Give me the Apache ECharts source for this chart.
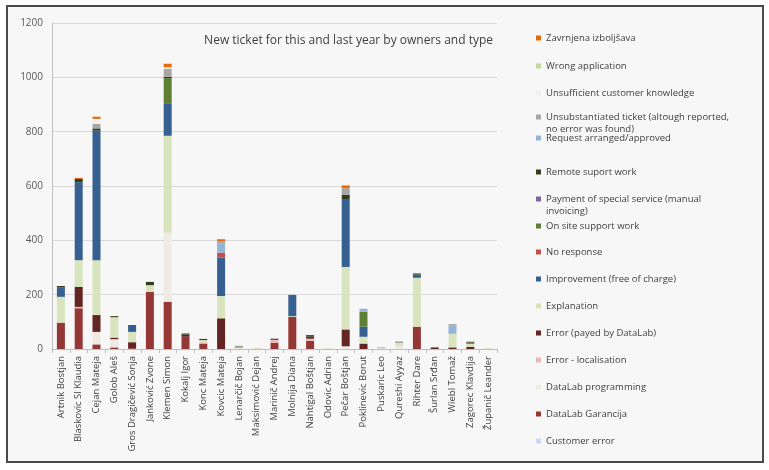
<!DOCTYPE html>
<html>
<head>
<meta charset="UTF-8">
<title>New ticket by owners and type</title>
<script type="text/javascript" src="https://cdn.jsdelivr.net/npm/echarts@6/dist/echarts.min.js"></script>
<style>
  html, body { margin: 0; padding: 0; background: #ffffff; }
  #main { width: 769px; height: 470px; }
</style>
</head>
<body>
<div id="main"></div>

<script type="text/javascript">
// owners on the x axis
var owners = ['Artnik Bostjan', 'Blaskovic Sl Klaudia', 'Cejan Mateja', 'Golob Aleš', 'Gros Dragičević Sonja',
    'Janković Zvone', 'Klemen Simon', 'Kokalj Igor', 'Konc Mateja', 'Kovcic Mateja',
    'Lenarčič Bojan', 'Maksimović Dejan', 'Marinič Andrej', 'Molnija Diana', 'Nahtigal Boštjan',
    'Odovic Adrian', 'Pečar Boštjan', 'Poklinevic Borut', 'Puskaric Leo', 'Qureshi Ayyaz',
    'Rihter Dare', 'Šurlan Srđan', 'Wiebl Tomaž', 'Zagorec Klavdija', 'Županič Leander'];

var yTicks = [0, 200, 400, 600, 800, 1000, 1200];

// ticket types, bottom of the stack first
var customerError       = [0, 0, 0, 0, 0, 0, 0, 0, 0, 0, 0, 0, 0, 0, 0, 0, 0, 0, 2, 0, 0, 0, 0, 0, 0];
var datalabGarancija    = [97, 150, 17, 6, 3, 210, 174, 45, 20, 0, 0, 0, 22, 118, 30, 0, 0, 0, 0, 0, 82, 0, 0, 0, 0];
var datalabProgramming  = [0, 0, 46, 30, 0, 0, 256, 0, 0, 0, 6, 0, 0, 0, 0, 0, 10, 0, 0, 10, 0, 0, 0, 0, 0];
var errorLocalisation   = [0, 5, 0, 0, 0, 0, 3, 0, 5, 0, 0, 0, 12, 0, 8, 0, 0, 0, 0, 0, 0, 0, 0, 0, 0];
var errorPayed          = [0, 74, 62, 6, 22, 0, 0, 8, 0, 113, 0, 0, 0, 0, 8, 0, 62, 20, 0, 0, 0, 4, 6, 8, 0];
var explanation         = [95, 98, 202, 75, 38, 25, 352, 0, 8, 82, 0, 4, 0, 3, 0, 2, 230, 25, 3, 12, 180, 0, 50, 12, 3];
var improvement         = [35, 287, 477, 0, 22, 0, 117, 0, 0, 142, 0, 0, 0, 78, 0, 0, 250, 37, 0, 0, 12, 0, 0, 0, 0];
var noResponse          = [0, 0, 0, 0, 0, 0, 0, 0, 0, 18, 0, 0, 0, 0, 0, 0, 0, 0, 0, 0, 0, 0, 0, 0, 0];
var onSiteSupport       = [0, 0, 0, 0, 0, 0, 95, 0, 0, 0, 0, 0, 0, 0, 0, 0, 0, 55, 0, 0, 0, 0, 0, 0, 0];
var paymentSpecial      = [0, 0, 0, 0, 0, 0, 0, 0, 0, 0, 0, 0, 0, 0, 0, 0, 0, 0, 0, 0, 0, 0, 0, 0, 0];
var remoteSupport       = [5, 12, 8, 4, 3, 12, 5, 4, 4, 0, 3, 0, 4, 0, 5, 0, 15, 0, 0, 0, 4, 2, 0, 5, 0];
var requestArranged     = [0, 0, 0, 0, 0, 0, 0, 0, 0, 33, 0, 0, 0, 0, 0, 0, 0, 11, 0, 0, 0, 0, 30, 0, 0];
var unsubstantiated     = [0, 0, 17, 0, 0, 0, 30, 0, 0, 8, 3, 0, 0, 0, 0, 0, 25, 0, 2, 6, 0, 0, 6, 3, 0];
var unsufficient        = [0, 0, 18, 0, 0, 0, 5, 0, 0, 0, 0, 0, 0, 0, 0, 0, 0, 0, 0, 0, 0, 0, 0, 0, 0];
var wrongApplication    = [0, 0, 0, 0, 0, 0, 0, 0, 0, 0, 0, 0, 0, 0, 0, 0, 0, 0, 0, 0, 0, 0, 0, 0, 0];
var zavrnjena           = [0, 4, 8, 0, 0, 0, 13, 0, 0, 8, 0, 0, 0, 0, 0, 0, 10, 0, 0, 0, 0, 0, 0, 0, 0];

var types = [
    { name: 'Customer error', data: customerError, color: '#c6d9f1' },
    { name: 'DataLab Garancija', data: datalabGarancija, color: '#953735' },
    { name: 'DataLab programming', data: datalabProgramming, color: '#eeece1' },
    { name: 'Error - localisation', data: errorLocalisation, color: '#e6b9b8' },
    { name: 'Error (payed by DataLab)', data: errorPayed, color: '#632523' },
    { name: 'Explanation', data: explanation, color: '#d7e4bd' },
    { name: 'Improvement (free of charge)', data: improvement, color: '#376092' },
    { name: 'No response', data: noResponse, color: '#c0504d' },
    { name: 'On site support work', data: onSiteSupport, color: '#5f7f35' },
    { name: 'Payment of special service (manual invoicing)', data: paymentSpecial, color: '#8064a2' },
    { name: 'Remote suport work', data: remoteSupport, color: '#313d1e' },
    { name: 'Request arranged/approved', data: requestArranged, color: '#95b3d7' },
    { name: 'Unsubstantiated ticket (altough reported, no error was found)', data: unsubstantiated, color: '#a6a6a6' },
    { name: 'Unsufficient customer knowledge', data: unsufficient, color: '#efefef' },
    { name: 'Wrong application', data: wrongApplication, color: '#c3d69b' },
    { name: 'Zavrnjena izboljšava', data: zavrnjena, color: '#e46c0a' }
];

// legend rows (top to bottom) and the centre y of each row
var legendNames = types.map(function (t) { return t.name; }).reverse();
var legendY = [38, 66, 93, 117, 138, 172, 199, 226, 252, 279, 306, 333, 360, 387, 414, 441];
var legendFirstLine = {
    'Unsubstantiated ticket (altough reported, no error was found)': 'Unsubstantiated ticket (altough reported,',
    'Payment of special service (manual invoicing)': 'Payment of special service (manual'
};

var font = 'Open Sans, Noto Sans, sans-serif';
var myChart = echarts.init(document.getElementById('main'));

var legends = legendNames.map(function (n, i) {
    return {
        data: [n],
        orient: 'vertical',
        left: 536,
        top: legendY[i] - 7,
        padding: 0,
        itemWidth: 5,
        itemHeight: 5,
        icon: 'rect',
        selectedMode: false,
        formatter: function (name) {
            return legendFirstLine[name] || name;
        },
        textStyle: { fontFamily: font, fontSize: 9.5, color: '#404040', lineHeight: 14 }
    };
});

var option = {
    backgroundColor: '#ffffff',
    animation: false,
    title: {
        text: 'New ticket for this and last year by owners and type',
        right: 276,
        top: 35,
        padding: 0,
        textStyle: { fontFamily: font, fontSize: 12, fontWeight: 'normal', color: '#404040' }
    },
    legend: legends,
    graphic: [
        {
            type: 'rect', z: -100, silent: true,
            shape: { x: 7, y: 6, width: 756, height: 456 },
            style: { fill: '#f7f7f7', stroke: '#4a4a4a', lineWidth: 2 }
        },
        {
            type: 'text', left: 546, top: 124, silent: true,
            style: { text: 'no error was found)', fontFamily: font, fontSize: 9.5, fill: '#404040' }
        },
        {
            type: 'text', left: 546, top: 206, silent: true,
            style: { text: 'invoicing)', fontFamily: font, fontSize: 9.5, fill: '#404040' }
        }
    ],
    grid: { left: 52, right: 272, top: 23, bottom: 121 },
    xAxis: {
        type: 'category',
        data: owners,
        axisLine: { lineStyle: { color: '#bfbfbf' } },
        axisTick: { show: true, length: 4, lineStyle: { color: '#bfbfbf' } },
        axisLabel: { interval: 0, rotate: 90, margin: 7, fontFamily: font, fontSize: 9.5, color: '#404040' }
    },
    yAxis: {
        type: 'value',
        min: yTicks[0],
        max: yTicks[yTicks.length - 1],
        interval: 200,
        axisLine: { show: true, lineStyle: { color: '#bfbfbf' } },
        axisTick: { show: false },
        splitLine: { lineStyle: { color: '#d9d9d9' } },
        axisLabel: {
            margin: 9, fontFamily: font, fontSize: 10, color: '#595959',
            formatter: function (v) { return String(v); }
        }
    },
    series: types.map(function (t) {
        return {
            name: t.name,
            type: 'bar',
            stack: 'tickets',
            barWidth: 8,
            data: t.data,
            itemStyle: { color: t.color }
        };
    })
};

myChart.setOption(option);
</script>
</body>
</html>
